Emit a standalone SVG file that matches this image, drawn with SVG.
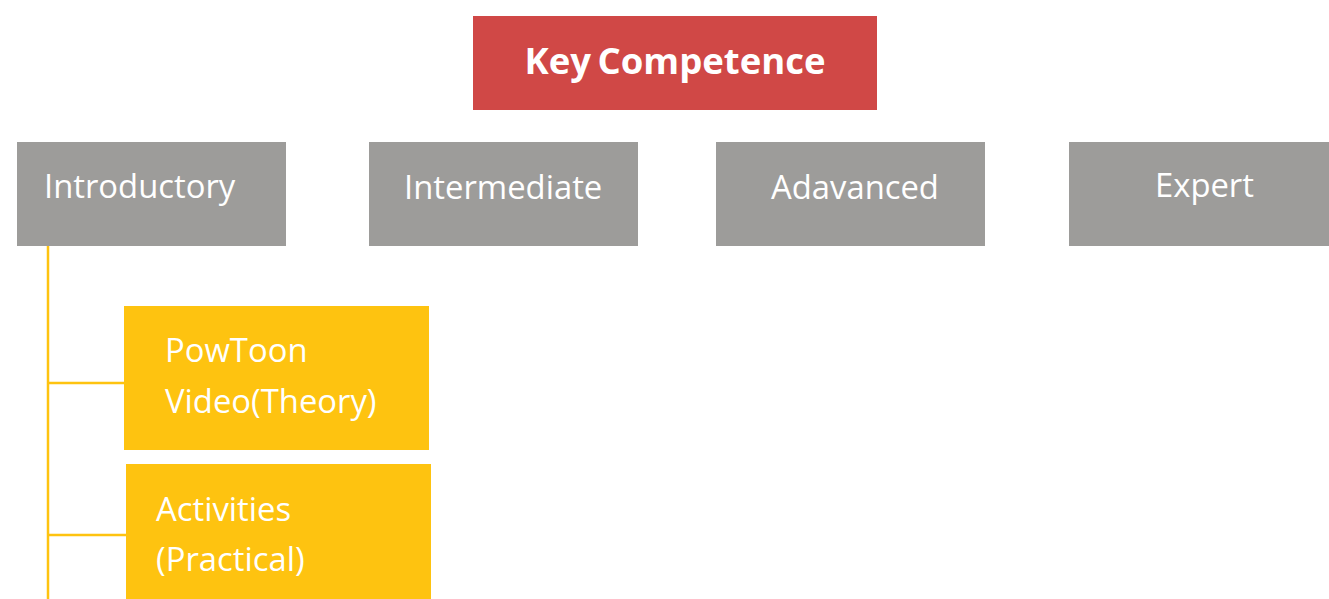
<svg xmlns="http://www.w3.org/2000/svg" width="1329" height="599" viewBox="0 0 1329 599">
<style>
.t{font-family:"Open Sans","Noto Sans","DejaVu Sans",sans-serif;fill:#fff;}
.lvl{fill:#9d9c9a;}
.sub{fill:#fec310;}
.lvlt{font-size:32.8px;}
.subt{font-size:32.8px;}
.conn{stroke:#fec310;stroke-width:2.5;fill:none;}
</style>
<rect width="1329" height="599" fill="#fff"/>
<g id="connectors">
<path class="conn" d="M48 246V599M48 383H124M48 535H126"/>
</g>
<g id="key-competence">
<rect x="473" y="16" width="404" height="94" fill="#d04846"/>
<text class="t" x="675" y="74" text-anchor="middle" font-size="36.5" font-weight="bold" word-spacing="-3">Key Competence</text>
</g>
<g id="introductory">
<rect class="lvl" x="17" y="142" width="269" height="104"/>
<text class="t lvlt" x="44" y="198">Introductory</text>
</g>
<g id="intermediate">
<rect class="lvl" x="369" y="142" width="269" height="104"/>
<text class="t lvlt" x="404" y="199">Intermediate</text>
</g>
<g id="advanced">
<rect class="lvl" x="716" y="142" width="269" height="104"/>
<text class="t lvlt" x="771" y="199">Adavanced</text>
</g>
<g id="expert">
<rect class="lvl" x="1069" y="142" width="260" height="104"/>
<text class="t lvlt" x="1155" y="197">Expert</text>
</g>
<g id="powtoon">
<rect class="sub" x="124" y="306" width="305" height="144"/>
<text class="t subt" x="165" y="362">PowToon</text>
<text class="t subt" x="165" y="413">Video(Theory)</text>
</g>
<g id="activities">
<rect class="sub" x="126" y="464" width="305" height="135"/>
<text class="t subt" x="156" y="521">Activities</text>
<text class="t subt" x="156" y="571">(Practical)</text>
</g>
</svg>
